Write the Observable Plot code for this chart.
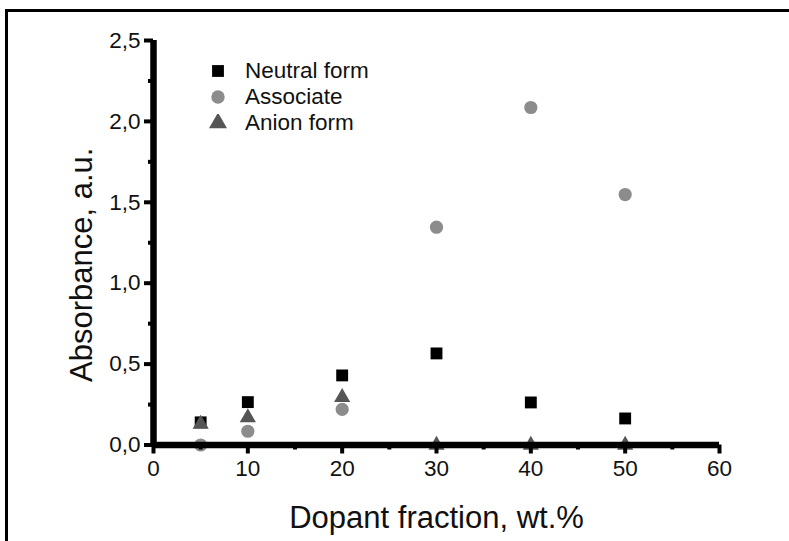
<!DOCTYPE html>
<html>
<head>
<meta charset="utf-8">
<script src="https://cdn.jsdelivr.net/npm/d3@7"></script>
<script src="https://cdn.jsdelivr.net/npm/@observablehq/plot@0.6"></script>
<style>
  html, body { margin: 0; padding: 0; background: #fff; overflow: hidden; }
  #wrap { position: relative; width: 789px; height: 541px; }
  #frame { position: absolute; left: 5px; top: 9px; width: 900px; height: 700px; border: 3px solid #000; box-sizing: border-box; pointer-events: none; }
  #legend { position: absolute; left: 209px; top: 58px; font-family: "Liberation Sans", Arial, sans-serif; font-size: 22.5px; color: #111; }
  #legend .row { display: flex; align-items: center; height: 26px; }
  #legend svg { margin-right: 18px; }
</style>
</head>
<body>
<div id="wrap"><div id="frame"></div><div id="legend"></div></div>
<script>
const fractions = [5, 10, 20, 30, 40, 50];
const neutralForm = [0.14, 0.265, 0.43, 0.566, 0.263, 0.164];
const associate = [0.0, 0.085, 0.22, 1.346, 2.086, 1.548];
const anionForm = [0.13, 0.17, 0.295, 0.0, 0.0, 0.0];

const seriesNames = ["Neutral form", "Associate", "Anion form"];
const seriesSymbols = ["square", "circle", "triangle"];
const seriesColors = ["#000000", "#8c8c8c", "#555555"];
const seriesRadii = [6.7, 6.6, 6.0];

const xTicks = [0, 10, 20, 30, 40, 50, 60];
const xMinor = [5, 15, 25, 35, 45, 55];
const yTicks = [0, 0.5, 1.0, 1.5, 2.0, 2.5];
const yMinor = [0.25, 0.75, 1.25, 1.75, 2.25];

const seriesValues = [neutralForm, associate, anionForm];
const rows = [];
seriesNames.forEach((name, i) => {
  fractions.forEach((f, j) => rows.push({series: name, x: f, y: seriesValues[i][j]}));
});

const fmt = v => d3.format(".1f")(v).replace(".", ",");

const dotMarks = seriesNames.map((name, i) =>
  Plot.dot(rows, {filter: d => d.series === name, x: "x", y: "y", symbol: "series", fill: "series", r: seriesRadii[i], stroke: "none"})
);

const plot = Plot.plot({
  width: 789,
  height: 541,
  marginLeft: 153,
  marginRight: 70,
  marginTop: 40,
  marginBottom: 96.5,
  style: {background: "transparent", color: "#000", fontFamily: "Liberation Sans, Arial, sans-serif", overflow: "visible"},
  x: {domain: [0, 60], axis: null},
  y: {domain: [0, 2.5], axis: null},
  symbol: {domain: seriesNames, range: seriesSymbols},
  color: {domain: seriesNames, range: seriesColors},
  marks: [
    ...dotMarks,
    Plot.axisX({ticks: xMinor, tickSize: 5, strokeWidth: 4, text: null, label: null}),
    Plot.axisX({ticks: xTicks, tickSize: 9, strokeWidth: 4, tickPadding: 6, fontSize: 22.5, fill: "#111", tickFormat: d => String(d), label: null}),
    Plot.axisY({ticks: yMinor, tickSize: 5, strokeWidth: 4, text: null, label: null}),
    Plot.axisY({ticks: yTicks, tickSize: 9, strokeWidth: 4, tickPadding: 4, fontSize: 22.5, fill: "#111", tickFormat: fmt, label: null}),
    Plot.ruleY([0], {stroke: "#000", strokeWidth: 6.5}),
    Plot.ruleX([0], {stroke: "#000", strokeWidth: 6.5}),
    Plot.text(["Dopant fraction, wt.%"], {frameAnchor: "bottom", textAnchor: "middle", dy: 83, fontSize: 31, fill: "#111"}),
    Plot.text(["Absorbance, a.u."], {frameAnchor: "left", textAnchor: "middle", dx: -71, dy: 22, rotate: -90, fontSize: 31, fill: "#111"})
  ]
});
document.getElementById("wrap").prepend(plot);
plot.style.position = "absolute";
plot.style.left = "0";
plot.style.top = "0";

// legend
const legend = d3.select("#legend");
seriesNames.forEach((name, i) => {
  const row = legend.append("div").attr("class", "row");
  const s = row.append("svg").attr("width", 18).attr("height", 18);
  s.append("path")
    .attr("transform", "translate(9,9)")
    .attr("d", d3.symbol(i === 0 ? d3.symbolSquare : i === 1 ? d3.symbolCircle : d3.symbolTriangle, 140)())
    .attr("fill", seriesColors[i]);
  row.append("span").text(name);
});
</script>
</body>
</html>
